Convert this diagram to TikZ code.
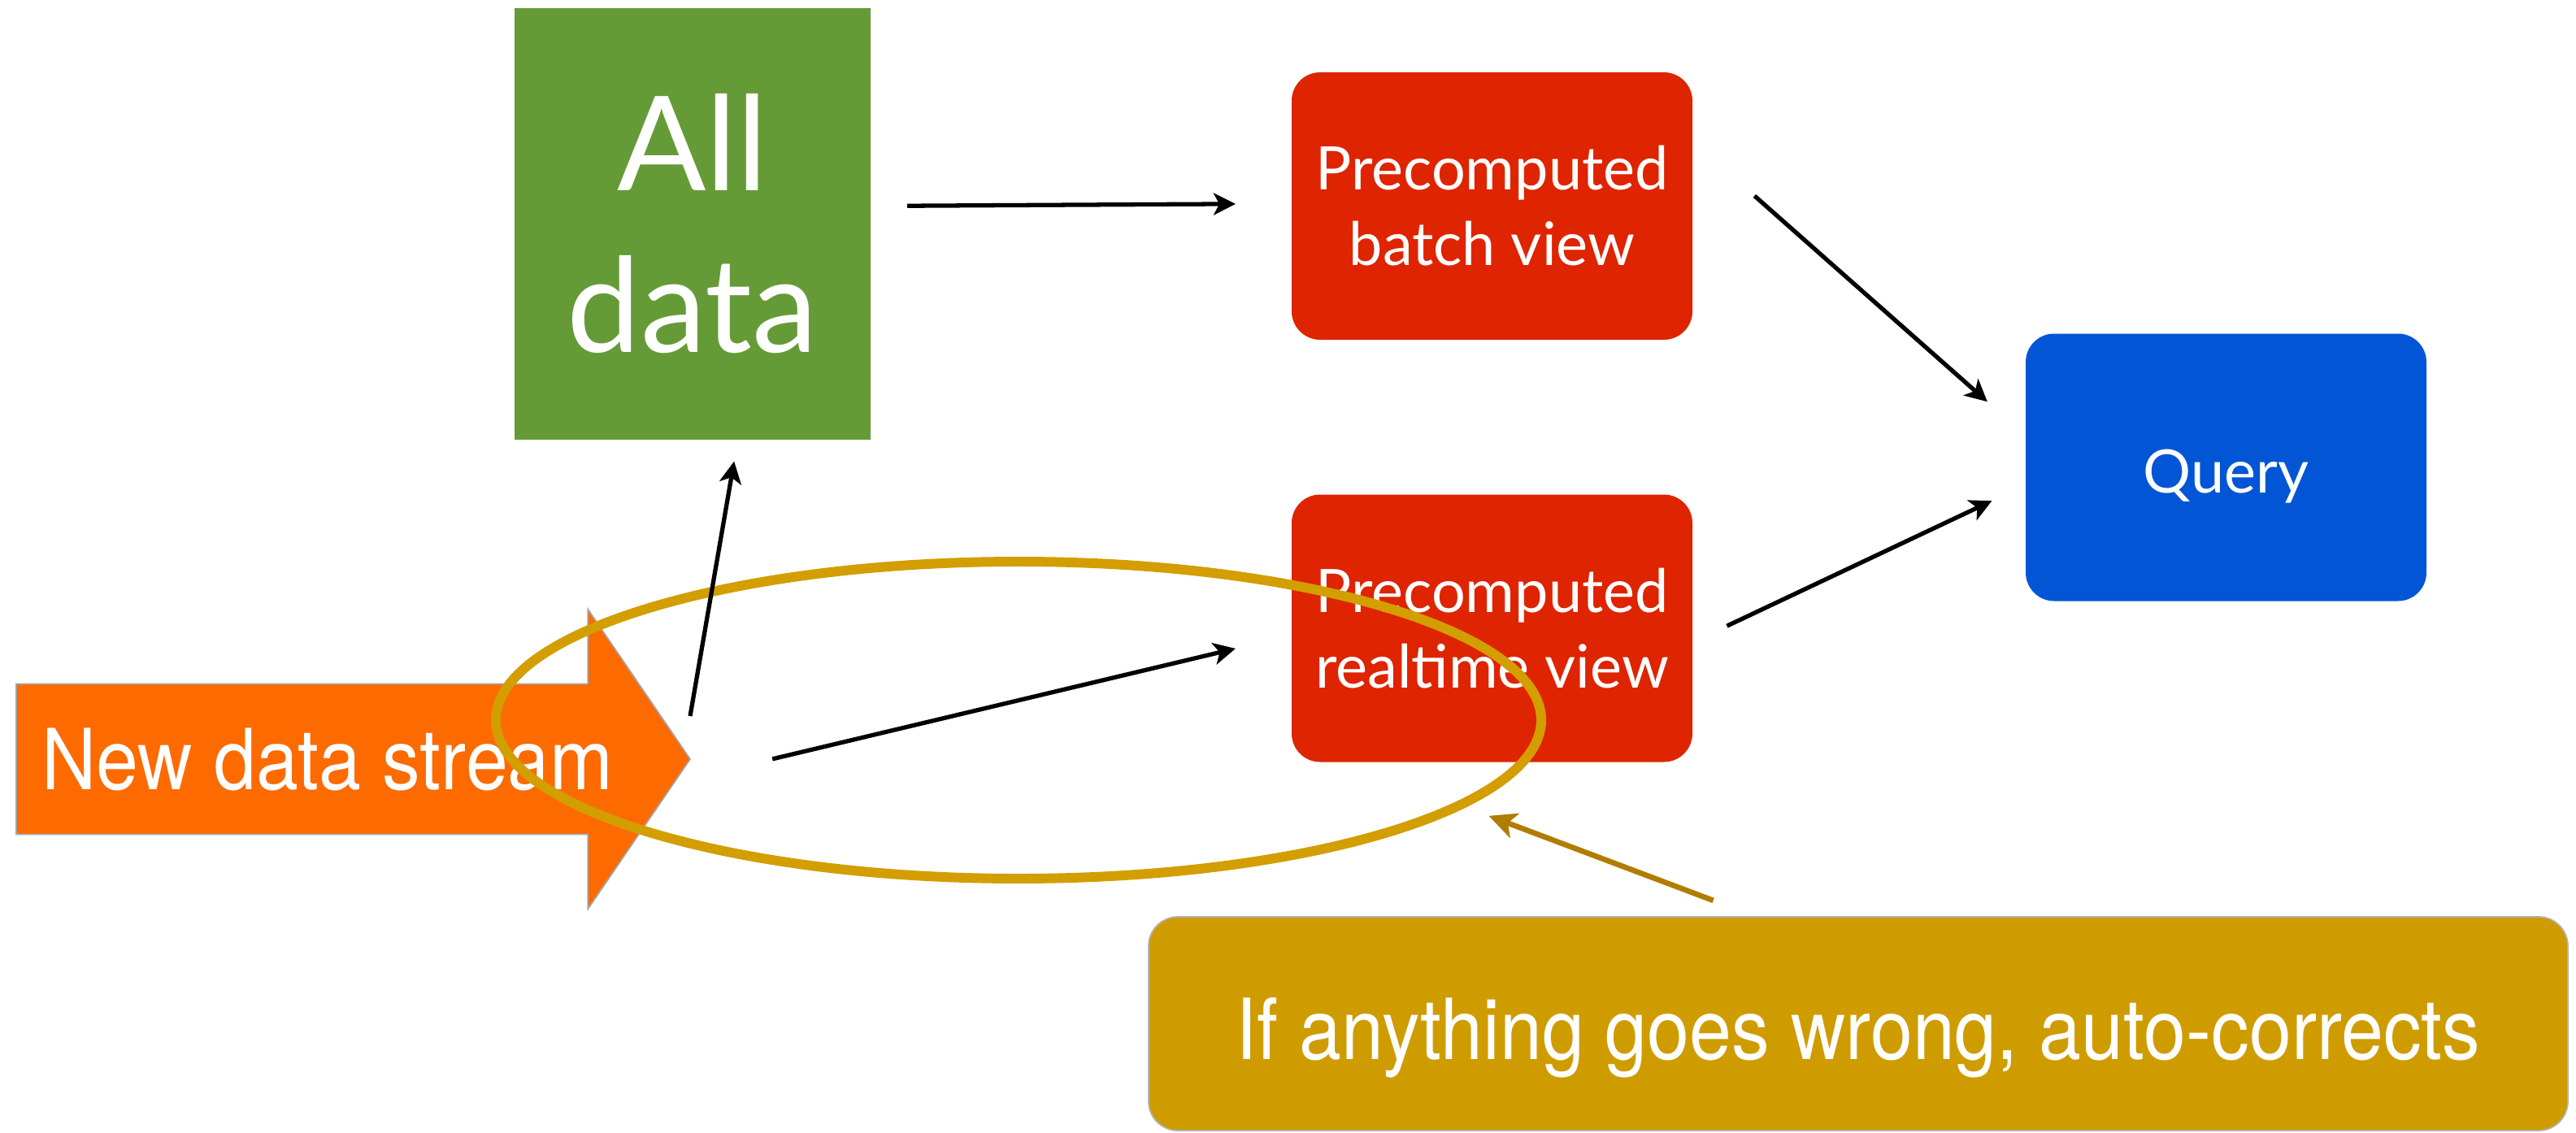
\documentclass[tikz,border=0pt]{standalone}
\usepackage{fontspec}
\usetikzlibrary{arrows.meta,shapes.arrows}
\setmainfont{Lato}
\newfontfamily\helv[FakeStretch=0.9]{TeX Gyre Heros}
\definecolor{alldatagreen}{HTML}{659B37}
\definecolor{viewred}{HTML}{DE2400}
\definecolor{queryblue}{HTML}{0256D6}
\definecolor{streamorange}{HTML}{FD6A00}
\definecolor{fixgold}{HTML}{CF9C00}
\definecolor{ringgold}{HTML}{D29E00}
\definecolor{pointgold}{HTML}{B07D00}

\begin{document}
\begin{tikzpicture}[
    every node/.style={text=white, outer sep=0pt},
    view/.style={rounded corners=0.35cm, minimum width=4.93cm, minimum height=3.29cm,
                 align=center, font=\fontsize{21}{26.5}\selectfont},
    link/.style={line width=1.5pt, -{Stealth[length=0.27cm,width=0.27cm,inset=0.07cm]}}
  ]
  \useasboundingbox (0,0) rectangle (31.69,13.93);
  % Boxes
  \node[fill=alldatagreen, minimum width=4.38cm, minimum height=5.31cm, align=center,
        font=\fontsize{46}{56.6}\selectfont] (alldata) at (8.52,11.175) {All\\data};
  \node[view, fill=viewred] (batch) at (18.355,11.395) {Precomputed\\batch view};
  \node[view, fill=viewred] (realtime) at (18.355,6.20) {Precomputed\\realtime view};
  \node[view, fill=queryblue, text height=0.81cm, text depth=0.18cm] (query) at (27.385,8.18) {Query};
  \node[single arrow, fill=streamorange, draw=gray!70, line width=0.5pt,
        single arrow tip angle=111.4, single arrow head extend=0.92cm,
        minimum height=8.29cm, minimum width=3.66cm, inner xsep=0.08cm, inner ysep=0.53cm,
        anchor=tip, font=\helv\fontsize{29.5}{35}\selectfont]
        (stream) at (8.49,4.59) {New data stream};
  \node[fill=fixgold, draw=gray!60, line width=0.5pt, rounded corners=0.36cm,
        minimum width=17.46cm, minimum height=2.63cm, text height=1.1cm, text depth=0.22cm,
        font=\helv\fontsize{29.5}{35}\selectfont] (fix) at (22.86,1.335)
        {If anything goes wrong, auto-corrects};
  % Ring
  \draw[ringgold, line width=3.4pt] (12.53,5.07) ellipse (6.43 and 1.95);
  % Arrows
  \draw[link, shorten <=0.45cm, shorten >=0.69cm] ([yshift=0.22cm]alldata.east) -- ([yshift=0.03cm]batch.west);
  \draw[link, shorten <=1.02cm, shorten >=0.63cm] (batch.18.3) -- (query.171.7);
  \draw[link, shorten <=0.47cm, shorten >=0.46cm] (realtime.-4.5) -- (query.-175.6);
  \draw[link, shorten <=1.04cm, shorten >=0.71cm] ([yshift=-0.24cm]stream.tip) -- ([yshift=-0.085cm]realtime.west);
  \draw[link, shorten >=0.27cm] ([yshift=0.53cm]stream.tip) -- ([xshift=0.557cm]alldata.south);
  \draw[pointgold, line width=1.9pt, -{Stealth[length=0.34cm,width=0.32cm,inset=0.09cm]},
        shorten <=0.57cm, shorten >=1.88cm] ([xshift=-1.25cm]fix.north) -- ([xshift=-1.80cm]realtime.south);
\end{tikzpicture}
\end{document}
